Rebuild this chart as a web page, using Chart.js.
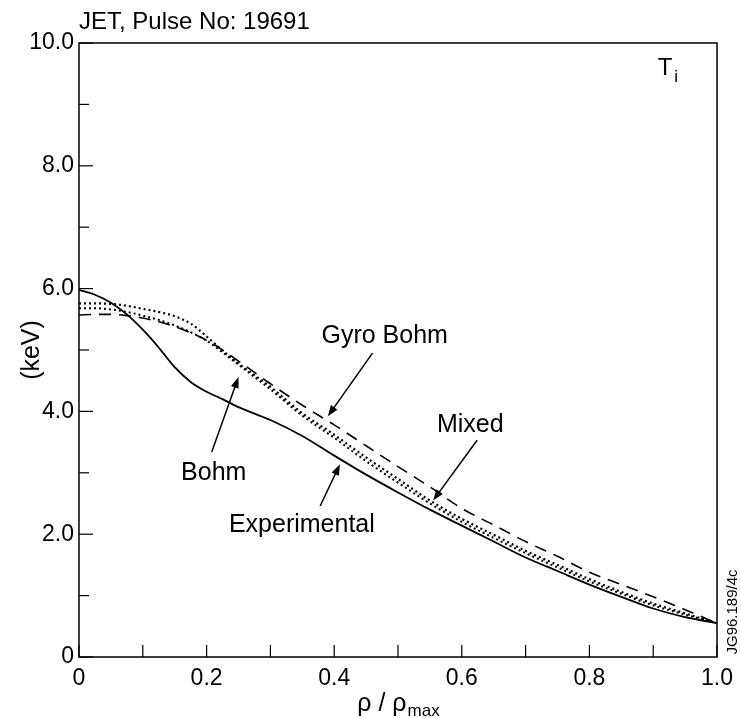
<!DOCTYPE html>
<html>
<head>
<meta charset="utf-8">
<script src="https://cdn.jsdelivr.net/npm/chart.js@4.4.0/dist/chart.umd.min.js"></script>
<style>
  html, body { margin: 0; padding: 0; background: #fff; }
  #wrap { width: 741px; height: 718px; }
</style>
</head>
<body>
<div id="wrap"><canvas id="chart" width="741" height="718"></canvas></div>
<script>
// rho / rho_max sample points
const rho = [0, 0.025, 0.05, 0.075, 0.1, 0.125, 0.15, 0.175, 0.2, 0.225, 0.25, 0.3, 0.35, 0.4, 0.45, 0.5, 0.55, 0.6, 0.65, 0.7, 0.75, 0.8, 0.85, 0.9, 0.95, 1.0];

// T_i (keV)
const experimental = [5.98, 5.90, 5.77, 5.58, 5.33, 5.04, 4.72, 4.48, 4.32, 4.20, 4.07, 3.86, 3.60, 3.28, 2.97, 2.68, 2.40, 2.14, 1.88, 1.62, 1.40, 1.18, 0.98, 0.79, 0.65, 0.55];
const bohm         = [5.76, 5.76, 5.75, 5.72, 5.67, 5.62, 5.55, 5.43, 5.22, 4.99, 4.78, 4.40, 3.97, 3.62, 3.25, 2.90, 2.55, 2.25, 1.99, 1.73, 1.50, 1.27, 1.06, 0.87, 0.71, 0.55];
const mixed        = [5.68, 5.68, 5.66, 5.62, 5.56, 5.49, 5.40, 5.29, 5.15, 4.96, 4.76, 4.36, 3.93, 3.57, 3.19, 2.84, 2.50, 2.20, 1.94, 1.69, 1.46, 1.23, 1.03, 0.84, 0.69, 0.55];
const gyroBohm     = [5.57, 5.58, 5.58, 5.56, 5.52, 5.46, 5.38, 5.28, 5.16, 5.00, 4.82, 4.45, 4.10, 3.78, 3.44, 3.10, 2.77, 2.42, 2.15, 1.88, 1.64, 1.38, 1.18, 0.98, 0.77, 0.55];

const xTicks = [0, 0.1, 0.2, 0.3, 0.4, 0.5, 0.6, 0.7, 0.8, 0.9, 1.0];
const yTicks = [0, 1, 2, 3, 4, 5, 6, 7, 8, 9, 10];

const FONT = "'Liberation Sans', Arial, Helvetica, sans-serif";

const pts = arr => arr.map((v, i) => ({ x: rho[i], y: v }));

// label positions in data units (rho, keV)
const notes = [
  { text: "Gyro Bohm",    at: [0.380, 5.11], from: [0.460, 4.95], to: [0.390, 3.92] },
  { text: "Mixed",        at: [0.561, 3.66], from: [0.624, 3.53], to: [0.555, 2.55] },
  { text: "Bohm",         at: [0.160, 2.88], from: [0.208, 3.34], to: [0.250, 4.56] },
  { text: "Experimental", at: [0.235, 2.04], from: [0.378, 2.46], to: [0.409, 3.14] }
];

function arrow(ctx, x1, y1, x2, y2) {
  const a = Math.atan2(y2 - y1, x2 - x1);
  const len = 11, w = 4;
  ctx.beginPath();
  ctx.moveTo(x1, y1);
  ctx.lineTo(x2 - Math.cos(a) * len * 0.8, y2 - Math.sin(a) * len * 0.8);
  ctx.stroke();
  ctx.beginPath();
  ctx.moveTo(x2, y2);
  ctx.lineTo(x2 - Math.cos(a) * len + Math.sin(a) * w, y2 - Math.sin(a) * len - Math.cos(a) * w);
  ctx.lineTo(x2 - Math.cos(a) * len - Math.sin(a) * w, y2 - Math.sin(a) * len + Math.cos(a) * w);
  ctx.closePath();
  ctx.fill();
}

const decor = {
  id: "decor",
  afterDraw(chart) {
    const { ctx, chartArea: a, scales: { x, y } } = chart;
    ctx.save();
    ctx.strokeStyle = "#000";
    ctx.fillStyle = "#000";

    // frame
    ctx.lineWidth = 1.5;
    ctx.strokeRect(a.left, a.top, a.right - a.left, a.bottom - a.top);

    // inward ticks
    ctx.lineWidth = 1.2;
    xTicks.forEach(v => {
      const px = x.getPixelForValue(v);
      ctx.beginPath();
      ctx.moveTo(px, a.bottom);
      ctx.lineTo(px, a.bottom - 12);
      ctx.stroke();
    });
    yTicks.forEach(v => {
      const py = y.getPixelForValue(v);
      const len = v % 2 === 0 ? 14 : 10;
      ctx.beginPath();
      ctx.moveTo(a.left, py);
      ctx.lineTo(a.left + len, py);
      ctx.stroke();
    });

    // title
    ctx.font = "24px " + FONT;
    ctx.textAlign = "left";
    ctx.textBaseline = "alphabetic";
    ctx.fillText("JET, Pulse No: 19691", a.left, 29);

    // T_i
    ctx.font = "24px " + FONT;
    const tx = x.getPixelForValue(0.907), ty = y.getPixelForValue(9.48);
    ctx.fillText("T", tx, ty);
    const tw = ctx.measureText("T").width;
    ctx.font = "17px " + FONT;
    ctx.fillText("i", tx + tw + 2, ty + 7);

    // curve labels + arrows
    ctx.font = "25px " + FONT;
    ctx.lineWidth = 1.5;
    notes.forEach(n => {
      ctx.fillText(n.text, x.getPixelForValue(n.at[0]), y.getPixelForValue(n.at[1]));
      arrow(ctx,
        x.getPixelForValue(n.from[0]), y.getPixelForValue(n.from[1]),
        x.getPixelForValue(n.to[0]), y.getPixelForValue(n.to[1]));
    });

    // x axis title: rho / rho_max
    ctx.font = "25px " + FONT;
    const base = 711;
    const t1 = "\u03C1 / \u03C1";
    const w1 = ctx.measureText(t1).width;
    ctx.font = "17px " + FONT;
    const w2 = ctx.measureText("max").width;
    const sx = (a.left + a.right) / 2 - (w1 + w2) / 2;
    ctx.font = "25px " + FONT;
    ctx.fillText(t1, sx, base);
    ctx.font = "17px " + FONT;
    ctx.fillText("max", sx + w1 + 1, base + 5);

    // y axis title
    ctx.save();
    ctx.translate(32, (a.top + a.bottom) / 2);
    ctx.rotate(-Math.PI / 2);
    ctx.font = "25px " + FONT;
    ctx.textAlign = "center";
    ctx.textBaseline = "middle";
    ctx.fillText("(keV)", 0, 0);
    ctx.restore();

    // figure code on the right edge
    ctx.save();
    ctx.translate(733, 612);
    ctx.rotate(-Math.PI / 2);
    ctx.font = "15px " + FONT;
    ctx.textAlign = "center";
    ctx.textBaseline = "middle";
    ctx.fillText("JG96.189/4c", 0, 0);
    ctx.restore();

    ctx.restore();
  }
};

new Chart(document.getElementById("chart"), {
  type: "line",
  data: {
    datasets: [
      { label: "Experimental", data: pts(experimental), borderColor: "#000", borderWidth: 1.8, pointRadius: 0, fill: false, cubicInterpolationMode: "monotone" },
      { label: "Bohm", data: pts(bohm), borderColor: "#000", borderWidth: 2.2, borderDash: [2, 3], pointRadius: 0, fill: false, cubicInterpolationMode: "monotone" },
      { label: "Mixed", data: pts(mixed), borderColor: "#000", borderWidth: 2, borderDash: [2, 3], pointRadius: 0, fill: false, cubicInterpolationMode: "monotone" },
      { label: "Gyro Bohm", data: pts(gyroBohm), borderColor: "#000", borderWidth: 1.6, borderDash: [12, 8], pointRadius: 0, fill: false, cubicInterpolationMode: "monotone" }
    ]
  },
  options: {
    responsive: false,
    animation: false,
    layout: { padding: { left: 0, top: 43, right: 19, bottom: 0 } },
    plugins: { legend: { display: false }, tooltip: { enabled: false }, title: { display: false } },
    scales: {
      x: {
        type: "linear", min: 0, max: 1,
        grid: { display: false, drawTicks: false },
        border: { display: false },
        ticks: {
          stepSize: 0.1, autoSkip: false, maxRotation: 0, padding: 8, color: "#000",
          font: { family: FONT, size: 23 },
          callback: v => {
            const k = Math.round(v * 10);
            if (k % 2) return "";
            if (k === 0) return "0";
            return (k / 10).toFixed(1);
          }
        },
        afterFit: s => { s.height = 61; }
      },
      y: {
        min: 0, max: 10,
        grid: { display: false, drawTicks: false },
        border: { display: false },
        ticks: {
          stepSize: 1, autoSkip: false, padding: 5, color: "#000",
          font: { family: FONT, size: 23 },
          callback: v => {
            const k = Math.round(v);
            if (k % 2) return "";
            if (k === 0) return "0";
            return k.toFixed(1);
          }
        },
        afterFit: s => { s.width = 79; }
      }
    }
  },
  plugins: [decor]
});
</script>
</body>
</html>
